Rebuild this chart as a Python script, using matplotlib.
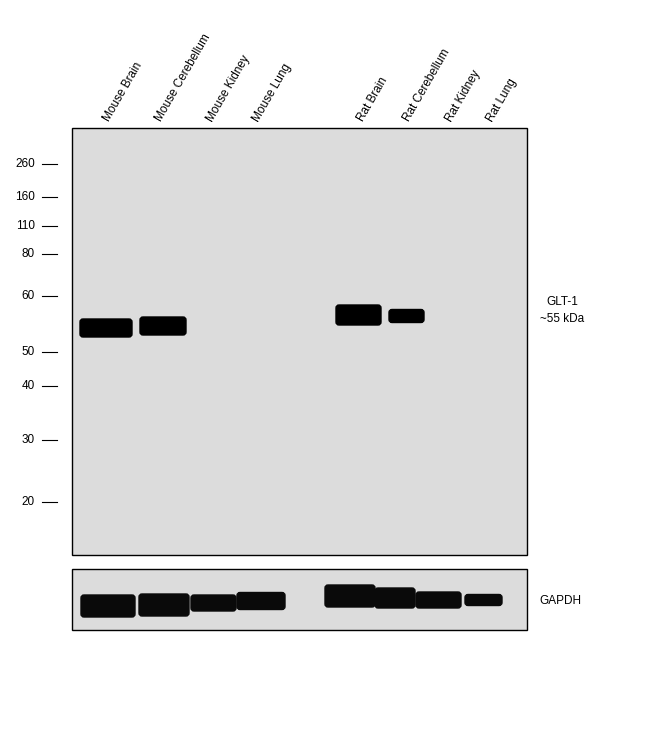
import matplotlib.pyplot as plt
from matplotlib.patches import FancyBboxPatch, Rectangle

# lane labels and their x positions (pixels)
lanes = ['Mouse Brain', 'Mouse Cerebellum', 'Mouse Kidney', 'Mouse Lung',
         'Rat Brain', 'Rat Cerebellum', 'Rat Kidney', 'Rat Lung']
lane_x = [106, 158, 210, 256, 360, 406, 449, 490]

# molecular weight markers (kDa) and their y positions
mw_labels = ['260', '160', '110', '80', '60', '50', '40', '30', '20']
mw_y = [164, 197, 226, 254, 296, 352, 386, 440, 502]

# GLT-1 bands: x start, x end, y centre, thickness
glt_x0 = [79, 139, 335, 388]
glt_x1 = [133, 187, 382, 425]
glt_y = [328, 326, 315, 316]
glt_h = [18, 18, 20, 13]

# GAPDH bands
gap_x0 = [80, 138, 190, 236, 324, 374, 415, 464]
gap_x1 = [136, 190, 237, 286, 376, 416, 462, 503]
gap_y = [606, 605, 603, 601, 596, 598, 600, 600]
gap_h = [22, 22, 16, 17, 22, 20, 16, 11]

fig = plt.figure(figsize=(6.5, 7.36), dpi=100)
ax = fig.add_axes([0, 0, 1, 1])
ax.set_xlim(0, 650)
ax.set_ylim(736, 0)
ax.axis('off')

gray = '#dcdcdc'
ax.add_patch(Rectangle((72, 128), 455, 427, facecolor=gray, edgecolor='black', lw=1))
ax.add_patch(Rectangle((72, 569), 455, 61, facecolor=gray, edgecolor='black', lw=1))

for x0, x1, y, h in zip(glt_x0, glt_x1, glt_y, glt_h):
    ax.add_patch(FancyBboxPatch((x0 + 4, y - h / 2 + 3), x1 - x0 - 8, h - 6,
                                boxstyle='round,pad=3', facecolor='black', edgecolor='black'))
for x0, x1, y, h in zip(gap_x0, gap_x1, gap_y, gap_h):
    ax.add_patch(FancyBboxPatch((x0 + 4, y - h / 2 + 3), x1 - x0 - 8, h - 6,
                                boxstyle='round,pad=3', facecolor='#0a0a0a', edgecolor='#0a0a0a'))

for lab, y in zip(mw_labels, mw_y):
    ax.text(35, y, lab, ha='right', va='center', fontsize=8.5, family='Arial' if False else 'Liberation Sans')
    ax.plot([42, 57], [y, y], color='black', lw=0.8)

for lab, x in zip(lanes, lane_x):
    ax.text(x, 121, lab, rotation=60, rotation_mode='anchor', ha='left', va='center',
            fontsize=8.5, family='Liberation Sans')

ax.text(562, 302, 'GLT-1', ha='center', va='center', fontsize=8.5, family='Liberation Sans')
ax.text(562, 319, '~55 kDa', ha='center', va='center', fontsize=8.5, family='Liberation Sans')
ax.text(560, 601, 'GAPDH', ha='center', va='center', fontsize=8.5, family='Liberation Sans')

fig.savefig('out.png', dpi=100, facecolor='white')
